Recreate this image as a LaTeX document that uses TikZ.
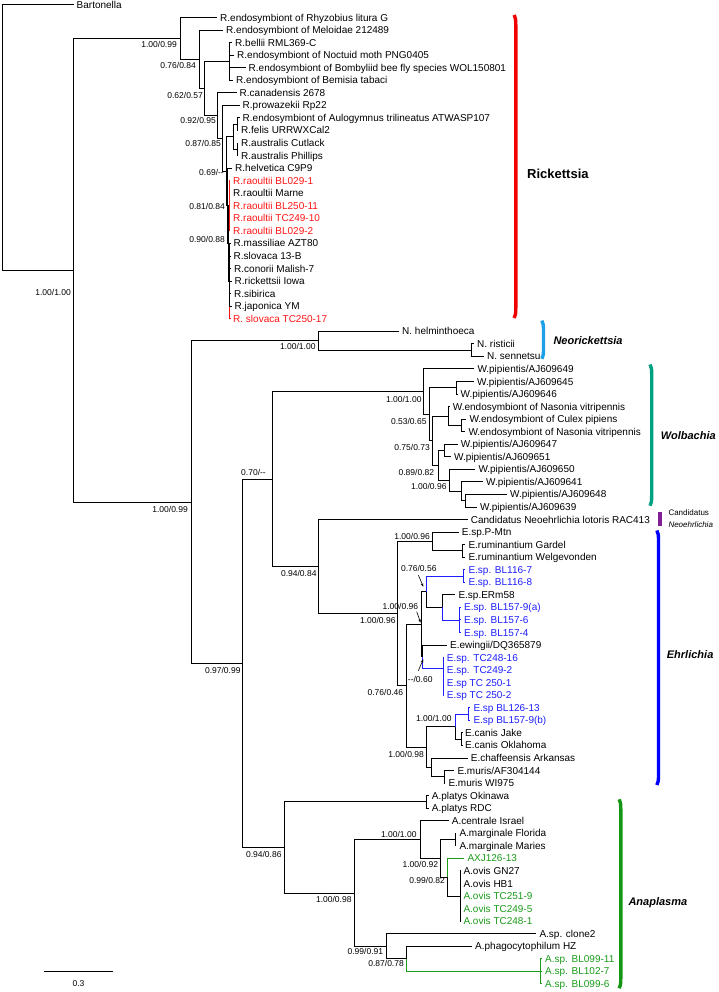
\documentclass[tikz,border=0pt]{standalone}
\usepackage{fontspec}
\setmainfont{Liberation Sans}
\usetikzlibrary{arrows.meta}
\definecolor{rred}{RGB}{255,20,20}
\definecolor{eblue}{RGB}{30,30,255}
\definecolor{agreen}{RGB}{25,155,25}
\definecolor{barred}{RGB}{240,0,0}
\definecolor{barnblue}{RGB}{30,160,230}
\definecolor{barteal}{RGB}{0,160,130}
\definecolor{barpurple}{RGB}{130,30,150}
\definecolor{barblue}{RGB}{0,0,255}
\definecolor{bargreen}{RGB}{20,150,20}
\newcommand\Yr[1]{5+(#1-1)*12.55}
\newcommand\tx[5]{\coordinate (#1) at (#2,{\Yr{#3}});\node[taxon,text=#4] (#1L) at (#1) {#5};}
\newcommand\bs[4]{\node[supp] (#1) at (#2,#3) {#4};}
\newcommand\cbar[5]{\draw[line width=3.4pt,#2] (#3-1.6,#4) .. controls (#3-0.3,#4+2) and (#3,#4+5) .. (#3,#4+10) -- (#3,#5-10) .. controls (#3,#5-5) and (#3-0.3,#5-2) .. (#3-1.6,#5);\coordinate (#1) at (#3,#4);}
\begin{document}
\begin{tikzpicture}[x=1pt,y=-1pt,
  br/.style={line width=1pt},
  taxon/.style={anchor=west,inner xsep=3pt,inner ysep=0pt,text height=7pt,text depth=0pt,font=\fontsize{10}{12}\selectfont},
  supp/.style={anchor=east,inner sep=0pt,text height=6.1pt,text depth=0pt,font=\fontsize{8.5}{10}\selectfont},
  clade/.style={anchor=west,inner sep=0pt,font=\fontsize{11}{13}\selectfont\bfseries\itshape},
  pointer/.style={line width=0.6pt,-{Stealth[length=3.5pt,width=2.6pt]}}]
\useasboundingbox (0,0) rectangle (718,992);
% ---------------- leaves: Rickettsia
\tx{Bart}{73.5}{1}{black}{Bartonella}
\tx{Rhy}{217}{2}{black}{R.endosymbiont of Rhyzobius litura G}
\tx{Mel}{223}{3}{black}{R.endosymbiont of Meloidae 212489}
\tx{bel}{232}{4}{black}{R.bellii RML369-C}
\tx{noc}{234}{5}{black}{R.endosymbiont of Noctuid moth PNG0405}
\tx{bom}{245.5}{6}{black}{R.endosymbiont of Bombyliid bee fly species WOL150801}
\tx{bem}{233}{7}{black}{R.endosymbiont of Bemisia tabaci}
\tx{can}{236.5}{8}{black}{R.canadensis 2678}
\tx{pro}{239.5}{9}{black}{R.prowazekii Rp22}
\tx{aul}{239.5}{10}{black}{R.endosymbiont of Aulogymnus trilineatus ATWASP107}
\tx{fel}{238}{11}{black}{R.felis URRWXCal2}
\tx{cut}{238}{12}{black}{R.australis Cutlack}
\tx{phi}{238}{13}{black}{R.australis Phillips}
\tx{hel}{232}{14}{black}{R.helvetica C9P9}
\tx{ra1}{230}{15}{rred}{R.raoultii BL029-1}
\tx{mar}{230}{16}{black}{R.raoultii Marne}
\tx{ra3}{230}{17}{rred}{R.raoultii BL250-11}
\tx{ra4}{230}{18}{rred}{R.raoultii TC249-10}
\tx{ra5}{230}{19}{rred}{R.raoultii BL029-2}
\tx{mas}{230.5}{20}{black}{R.massiliae AZT80}
\tx{slo}{230.5}{21}{black}{R.slovaca 13-B}
\tx{con}{231}{22}{black}{R.conorii Malish-7}
\tx{ric}{231.5}{23}{black}{R.rickettsii Iowa}
\tx{sib}{231}{24}{black}{R.sibirica}
\tx{jap}{231.5}{25}{black}{R.japonica YM}
\tx{slr}{230}{26}{rred}{R. slovaca TC250-17}
% ---------------- Neorickettsia
\tx{nhe}{399}{27}{black}{N. helminthoeca}
\tx{nri}{474}{28}{black}{N. risticii}
\tx{nse}{484}{29}{black}{N. sennetsu}
% ---------------- Wolbachia
\tx{w649}{474.3}{30}{black}{W.pipientis/AJ609649}
\tx{w645}{474}{31}{black}{W.pipientis/AJ609645}
\tx{w646}{457.5}{32}{black}{W.pipientis/AJ609646}
\tx{wen1}{449.7}{33}{black}{W.endosymbiont of Nasonia vitripennis}
\tx{wcu}{466.3}{34}{black}{W.endosymbiont of Culex pipiens}
\tx{wna}{465.3}{35}{black}{W.endosymbiont of Nasonia vitripennis}
\tx{w647}{457.7}{36}{black}{W.pipientis/AJ609647}
\tx{w651}{451}{37}{black}{W.pipientis/AJ609651}
\tx{w650}{475.3}{38}{black}{W.pipientis/AJ609650}
\tx{w641}{483}{39}{black}{W.pipientis/AJ609641}
\tx{w648}{507}{40}{black}{W.pipientis/AJ609648}
\tx{w639}{477}{41}{black}{W.pipientis/AJ609639}
\tx{cand}{467.7}{42}{black}{Candidatus Neoehrlichia lotoris RAC413}
% ---------------- Ehrlichia
\tx{pmt}{458.7}{43}{black}{E.sp.P-Mtn}
\tx{gar}{465.3}{44}{black}{E.ruminantium Gardel}
\tx{wel}{465.3}{45}{black}{E.ruminantium Welgevonden}
\tx{b1167}{465.3}{46}{eblue}{E.sp. BL116-7}
\tx{b1168}{465.3}{47}{eblue}{E.sp. BL116-8}
\tx{erm}{455.3}{48}{black}{E.sp.ERm58}
\tx{b157a}{461}{49}{eblue}{E.sp. BL157-9(a)}
\tx{b1576}{461}{50}{eblue}{E.sp. BL157-6}
\tx{b1574}{461}{51}{eblue}{E.sp. BL157-4}
\tx{ewi}{447}{52}{black}{E.ewingii/DQ365879}
\tx{tc1}{443.7}{53}{eblue}{E.sp. TC248-16}
\tx{tc2}{443.7}{54}{eblue}{E.sp. TC249-2}
\tx{tc3}{443.7}{55}{eblue}{E.sp TC 250-1}
\tx{tc4}{443.7}{56}{eblue}{E.sp TC 250-2}
\tx{b126}{470.3}{57}{eblue}{E.sp BL126-13}
\tx{b157b}{470.3}{58}{eblue}{E.sp BL157-9(b)}
\tx{cja}{462}{59}{black}{E.canis Jake}
\tx{cok}{462}{60}{black}{E.canis Oklahoma}
\tx{chf}{467.7}{61}{black}{E.chaffeensis Arkansas}
\tx{maf}{454.3}{62}{black}{E.muris/AF304144}
\tx{mwi}{445.3}{63}{black}{E.muris WI975}
% ---------------- Anaplasma
\tx{pok}{428.7}{64}{black}{A.platys Okinawa}
\tx{prd}{428.7}{65}{black}{A.platys RDC}
\tx{cen}{448.7}{66}{black}{A.centrale Israel}
\tx{mfl}{456.3}{67}{black}{A.marginale Florida}
\tx{mma}{456.3}{68}{black}{A.marginale Maries}
\tx{axj}{464.3}{69}{agreen}{AXJ126-13}
\tx{ogn}{460.3}{70}{black}{A.ovis GN27}
\tx{ohb}{460.3}{71}{black}{A.ovis HB1}
\tx{o251}{460.3}{72}{agreen}{A.ovis TC251-9}
\tx{o249}{460.3}{73}{agreen}{A.ovis TC249-5}
\tx{o248}{460.3}{74}{agreen}{A.ovis TC248-1}
\tx{cl2}{536.3}{75}{black}{A.sp. clone2}
\tx{pha}{472}{76}{black}{A.phagocytophilum HZ}
\tx{a0991}{542}{77}{agreen}{A.sp. BL099-11}
\tx{a1027}{542}{78}{agreen}{A.sp. BL102-7}
\tx{a0996}{542}{79}{agreen}{A.sp. BL099-6}
% ---------------- internal nodes
\coordinate (Root) at (2,137.6);
\coordinate (N73) at (73.3,270.2);
\coordinate (N181) at (180.7,38.4);
\coordinate (N199) at (199,59.3);
\coordinate (N204) at (204.3,88.55);
\coordinate (G1) at (229,61.5);
\coordinate (N218) at (217.7,115.6);
\coordinate (N223) at (222.7,138.35);
\coordinate (N226) at (226,171.3);
\coordinate (N233) at (233,136.8);
\coordinate (N237a) at (237,124.2);
\coordinate (N237b) at (237,149.3);
\coordinate (N227) at (227.3,205.8);
\coordinate (N228) at (228.3,243.45);
\coordinate (R1) at (229.3,205.8);
\coordinate (R2) at (229.8,281.1);
\coordinate (N192) at (191.7,502);
\coordinate (NR) at (318.3,340.7);
\coordinate (NR2) at (471,350.1);
\coordinate (EA) at (242.7,663.2);
\coordinate (N273) at (272.7,479);
\coordinate (A) at (423.3,391.6);
\coordinate (B) at (429.3,414.3);
\coordinate (C) at (456.7,387.8);
\coordinate (D) at (432.7,440.7);
\coordinate (E) at (448.3,416);
\coordinate (E2) at (461.7,425.4);
\coordinate (F) at (438.3,465.45);
\coordinate (G) at (444,450.5);
\coordinate (H) at (449,480.4);
\coordinate (I) at (461.7,491.4);
\coordinate (J) at (465,500.8);
\coordinate (K) at (318.3,566.35);
\coordinate (L) at (397.7,613.4);
\coordinate (N) at (432.7,541.3);
\coordinate (RUM) at (462.3,550.7);
\coordinate (M) at (406,685.5);
\coordinate (O) at (421,624.1);
\coordinate (Q) at (426,591.7);
\coordinate (B116) at (463.3,576);
\coordinate (S) at (442.7,607.4);
\coordinate (B157) at (459.3,620);
\coordinate (R) at (422.7,656.5);
\coordinate (TC) at (443.3,668);
\coordinate (P) at (426.7,747);
\coordinate (T) at (455,726.6);
\coordinate (B126) at (468.3,714.1);
\coordinate (CAN) at (461.7,739.2);
\coordinate (U) at (431.7,767.4);
\coordinate (MUR) at (444.3,776.8);
\coordinate (V) at (284,847.4);
\coordinate (PLA) at (426.7,801.9);
\coordinate (W) at (354.3,893);
\coordinate (X) at (420,839.7);
\coordinate (Yn) at (440,858.5);
\coordinate (MAR) at (455,839.7);
\coordinate (Z) at (447.7,877.3);
\coordinate (OV) at (460,896.1);
\coordinate (AA) at (386,946.3);
\coordinate (BB) at (406,958.85);
\coordinate (B099) at (540.7,971.4);
% ---------------- branches
\begin{scope}[br]
\draw (Root) |- (Bart) (Root) |- (N73);
\draw (N73) |- (N181) (N73) |- (N192);
\draw (N181) |- (Rhy) (N181) |- (N199);
\draw (N199) |- (Mel) (N199) |- (N204);
\draw (N204) |- (G1) (N204) |- (N218);
\draw (G1) |- (bel) (G1) |- (noc) (G1) |- (bom) (G1) |- (bem);
\draw (N218) |- (can) (N218) |- (N223);
\draw (N223) |- (pro) (N223) |- (N226);
\draw (N226) |- (N233) (N226) |- (N227);
\draw (N233) |- (N237a) (N233) |- (N237b);
\draw (N237a) |- (aul) (N237a) |- (fel);
\draw (N237b) |- (cut) (N237b) |- (phi);
\draw (N227) |- (hel) (N227) |- (N228);
\draw (N228) |- (R1) (N228) |- (R2);
\draw (R1) |- (mar);
\draw[rred] (R1) |- (ra1) (R1) |- (ra3) (R1) |- (ra4) (R1) |- (ra5);
\draw[rred] (R2) |- (slr);
\draw (R2) |- (mas) (R2) |- (slo) (R2) |- (con) (R2) |- (ric) (R2) |- (sib) (R2) |- (jap);
\draw (N192) |- (NR) (N192) |- (EA);
\draw (NR) |- (nhe) (NR) |- (NR2);
\draw (NR2) |- (nri) (NR2) |- (nse);
\draw (EA) |- (N273) (EA) |- (V);
\draw (N273) |- (A) (N273) |- (K);
\draw (A) |- (w649) (A) |- (B);
\draw (B) |- (C) (B) |- (D);
\draw (C) |- (w645) (C) |- (w646);
\draw (D) |- (E) (D) |- (F);
\draw (E) |- (wen1) (E) |- (E2);
\draw (E2) |- (wcu) (E2) |- (wna);
\draw (F) |- (G) (F) |- (H);
\draw (G) |- (w647) (G) |- (w651);
\draw (H) |- (w650) (H) |- (I);
\draw (I) |- (w641) (I) |- (J);
\draw (J) |- (w648) (J) |- (w639);
\draw (K) |- (cand) (K) |- (L);
\draw (L) |- (N) (L) |- (M);
\draw (N) |- (pmt) (N) |- (RUM);
\draw (RUM) |- (gar) (RUM) |- (wel);
\draw (M) |- (O) (M) |- (P);
\draw (O) |- (Q) (O) |- (R);
\draw[eblue] (Q) |- (B116);
\draw (Q) |- (S);
\draw[eblue] (B116) |- (b1167) (B116) |- (b1168);
\draw (S) |- (erm);
\draw[eblue] (S) |- (B157);
\draw[eblue] (B157) |- (b157a) (B157) |- (b1576) (B157) |- (b1574);
\draw (R) |- (ewi);
\draw[eblue] (R) |- (TC);
\draw[eblue] (TC) |- (tc1) (TC) |- (tc2) (TC) |- (tc3) (TC) |- (tc4);
\draw (P) |- (T) (P) |- (U);
\draw[eblue] (T) |- (B126);
\draw (T) |- (CAN);
\draw[eblue] (B126) |- (b126) (B126) |- (b157b);
\draw (CAN) |- (cja) (CAN) |- (cok);
\draw (U) |- (chf) (U) |- (MUR);
\draw (MUR) |- (maf) (MUR) |- (mwi);
\draw (V) |- (PLA) (V) |- (W);
\draw (PLA) |- (pok) (PLA) |- (prd);
\draw (W) |- (X) (W) |- (AA);
\draw (X) |- (cen) (X) |- (Yn);
\draw (Yn) |- (MAR) (Yn) |- (Z);
\draw (MAR) |- (mfl) (MAR) |- (mma);
\draw[agreen] (Z) |- (axj);
\draw (Z) |- (OV);
\draw (OV) |- (ogn) (OV) |- (ohb) (OV) |- (o251) (OV) |- (o249) (OV) |- (o248);
\draw (AA) |- (cl2) (AA) |- (BB);
\draw (BB) |- (pha);
\draw[agreen] (BB) |- (B099);
\draw[agreen] (B099) |- (a0991) (B099) |- (a1027) (B099) |- (a0996);
\end{scope}
% ---------------- support values
\bs{s1}{71}{292}{1.00/1.00}
\bs{s2}{177}{44.5}{1.00/0.99}
\bs{s3}{196}{65}{0.76/0.84}
\bs{s4}{203}{95}{0.62/0.57}
\bs{s5}{216}{120}{0.92/0.95}
\bs{s6}{221}{143}{0.87/0.85}
\bs{s7}{224}{172.3}{0.69/-{}-}
\bs{s8}{225}{206}{0.81/0.84}
\bs{s9}{225}{239}{0.90/0.88}
\bs{s10}{188}{509}{1.00/0.99}
\bs{s11}{315.7}{346.7}{1.00/1.00}
\bs{s12}{240.7}{670}{0.97/0.99}
\bs{s13}{266}{472}{0.70/-{}-}
\bs{s14}{421.7}{399}{1.00/1.00}
\bs{s15}{426.7}{421.7}{0.53/0.65}
\bs{s16}{430}{447.3}{0.75/0.73}
\bs{s17}{434.3}{472.3}{0.89/0.82}
\bs{s18}{446.7}{486.7}{1.00/0.96}
\bs{s19}{316.7}{573}{0.94/0.84}
\bs{s20}{430}{536.7}{1.00/0.96}
\bs{s21}{436.7}{568.3}{0.76/0.56}
\bs{s22}{418.3}{606}{1.00/0.96}
\bs{s23}{395.7}{620.7}{1.00/0.96}
\bs{s24}{432.7}{679}{-{}-/0.60}
\bs{s25}{403.3}{692.3}{0.76/0.46}
\bs{s26}{451.7}{718.3}{1.00/1.00}
\bs{s27}{424}{754}{1.00/0.98}
\bs{s28}{281.7}{854}{0.94/0.86}
\bs{s29}{416.7}{834}{1.00/1.00}
\bs{s30}{438.3}{864}{1.00/0.92}
\bs{s31}{445}{880.7}{0.99/0.82}
\bs{s32}{351.7}{899}{1.00/0.98}
\bs{s33}{383.3}{951.7}{0.99/0.91}
\bs{s34}{404}{963.3}{0.87/0.78}
% pointer arrows
\coordinate (q1) at (418.3,575); \coordinate (q2) at (423.3,586.7);
\coordinate (o1) at (416.7,611.7); \coordinate (o2) at (420.7,622.7);
\coordinate (r1) at (418.3,670.7); \coordinate (r2) at (423.3,659.3);
\draw[pointer] (q1) -- (q2);
\draw[pointer] (o1) -- (o2);
\draw[pointer] (r1) -- (r2);
% ---------------- scale bar
\coordinate (sbA) at (44.3,971); \coordinate (sbB) at (112.7,971);
\draw[line width=1pt] (sbA) -- (sbB);
\node[supp,anchor=center] (sbL) at (78.5,983.5) {0.3};
% ---------------- clade bars and names
\cbar{barR}{barred}{515.8}{15}{318}
\cbar{barN}{barnblue}{543.5}{320.6}{358.8}
\cbar{barW}{barteal}{651.7}{364.5}{505.7}
\fill[barpurple] (658.3,511.5) rectangle (661.7,526);
\cbar{barE}{barblue}{658.5}{530.5}{785}
\cbar{barA}{bargreen}{620.8}{799.3}{988.3}
\node[anchor=west,inner sep=0pt,font=\fontsize{13}{15}\selectfont\bfseries] (labR) at (527,173.5) {Rickettsia};
\node[clade] (labN) at (553.3,341) {Neorickettsia};
\node[clade] (labW) at (660.7,436) {Wolbachia};
\node[anchor=west,inner sep=0pt,font=\fontsize{8}{9}\selectfont] (labC1) at (668.3,512.5) {Candidatus};
\node[anchor=west,inner sep=0pt,font=\fontsize{8}{9}\selectfont\itshape] (labC2) at (668.3,524.5) {Neoehrlichia};
\node[clade] (labE) at (666.7,654.3) {Ehrlichia};
\node[clade] (labA) at (628.3,902.7) {Anaplasma};
\end{tikzpicture}
\end{document}
